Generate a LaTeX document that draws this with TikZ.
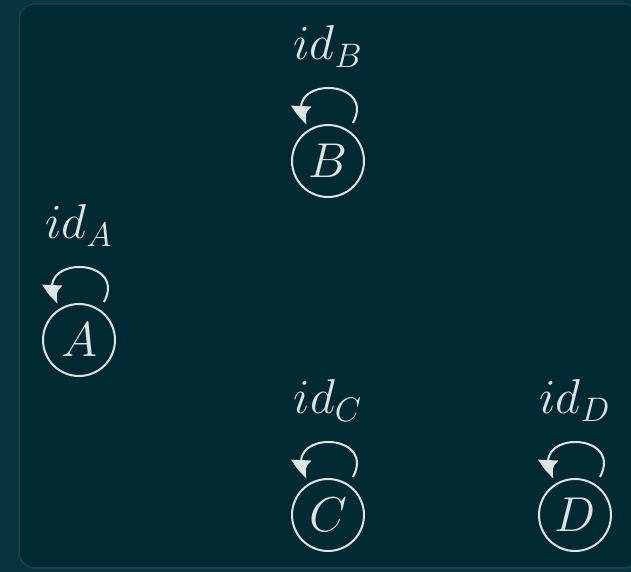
\documentclass[tikz,border=0pt]{standalone}
\usepackage{graphicx}
\usetikzlibrary{arrows.meta,bending}
\definecolor{outerbg}{RGB}{8,52,64}
\definecolor{innerbg}{RGB}{1,41,52}
\definecolor{edgec}{RGB}{22,66,78}
\definecolor{fg}{RGB}{222,228,228}
\newcommand{\hugemath}[1]{\scalebox{2.36}{\huge$#1$}}
\tikzset{
  state/.style={circle,draw=fg,line width=2pt,minimum size=72pt,inner sep=0pt,text=fg},
  lbl/.style={anchor=base,text=fg,inner sep=0pt},
  selfloop/.style={draw=fg,line width=2pt,-{Latex[length=24pt,width=20pt,bend]}}
}
\newcommand{\idloop}[2]{%
  \node[lbl] (l#1) at ([yshift=101pt]#1.center) {\hugemath{id_{#2}}};
  \coordinate (s#1) at ([shift={(25pt,38pt)}]#1.center);
  \coordinate (e#1) at ([shift={(-21pt,36pt)}]#1.center);
  \draw[selfloop] (s#1) .. controls ([shift={(50pt,85pt)}]#1.center) and ([shift={(-52pt,85pt)}]#1.center) .. (e#1);
}
\begin{document}
\begin{tikzpicture}[x=1pt,y=1pt]
\useasboundingbox (0,0) rectangle (631,572);
\fill[outerbg] (0,0) rectangle (631,572);
\fill[innerbg,draw=edgec,line width=1.5pt,rounded corners=16pt] (19,4) rectangle (640,568);
\node[state] (A) at (79,232) {\hugemath{A}};
\node[state] (B) at (328,411) {\hugemath{B}};
\node[state] (C) at (328,57) {\hugemath{C}};
\node[state] (D) at (575,57) {\hugemath{D}};
\idloop{A}{A}
\idloop{B}{B}
\idloop{C}{C}
\idloop{D}{D}
\end{tikzpicture}
\end{document}
